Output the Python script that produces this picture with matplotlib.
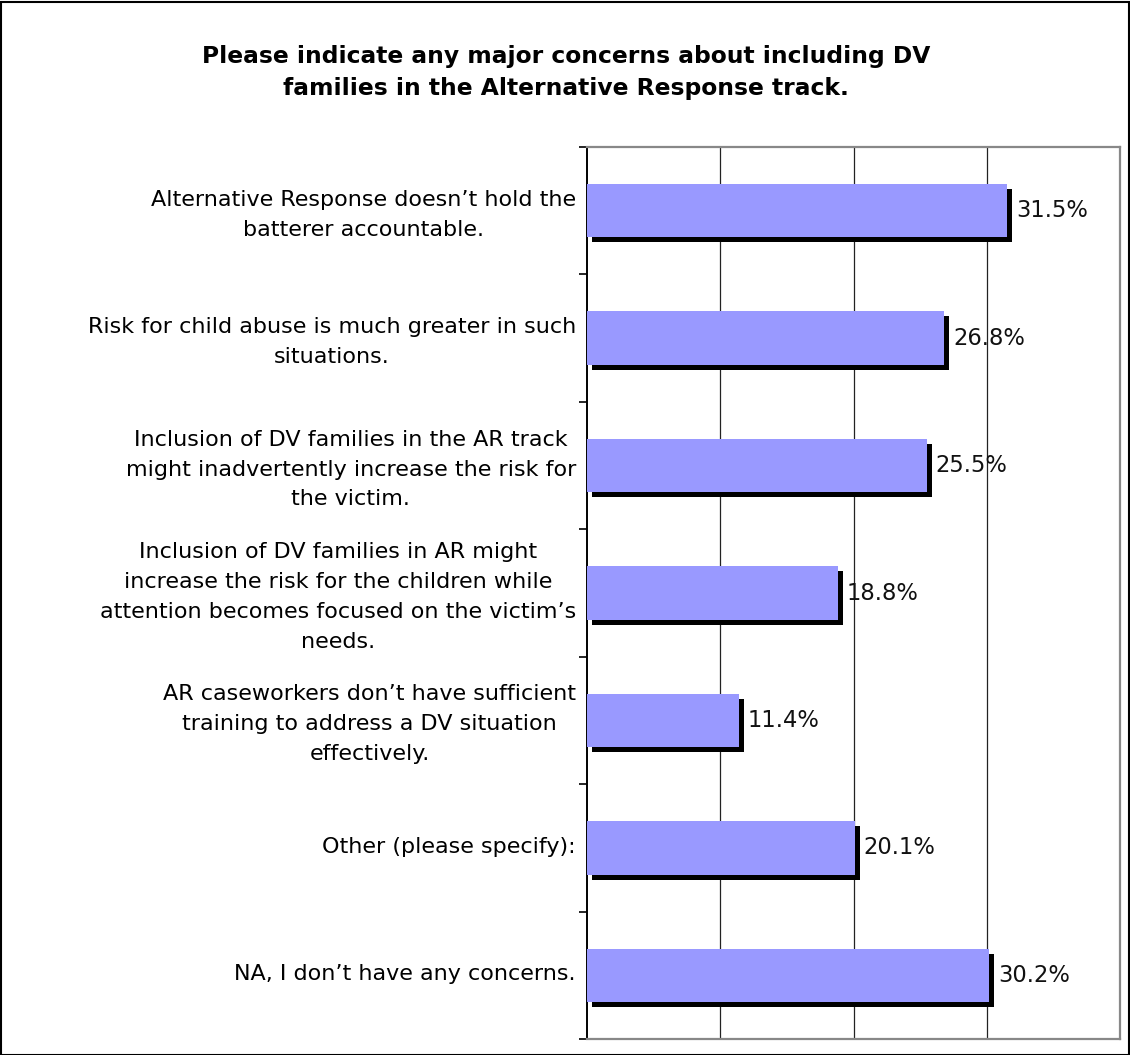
import matplotlib
matplotlib.use("Agg")
import matplotlib.pyplot as plt
from matplotlib import transforms
from matplotlib.patches import Rectangle

TITLE = ("Please indicate any major concerns about including DV\n"
         "families in the Alternative Response track.")
CONCERNS = [
    "Alternative Response doesn\u2019t hold the\nbatterer accountable.",
    "Risk for child abuse is much greater in such\nsituations.",
    "Inclusion of DV families in the AR track\nmight inadvertently increase the risk for\nthe victim.",
    "Inclusion of DV families in AR might\nincrease the risk for the children while\nattention becomes focused on the victim\u2019s\nneeds.",
    "AR caseworkers don\u2019t have sufficient\ntraining to address a DV situation\neffectively.",
    "Other (please specify):",
    "NA, I don\u2019t have any concerns.",
]
PERCENTS = [31.5, 26.8, 25.5, 18.8, 11.4, 20.1, 30.2]
GRID_STEPS = [10, 20, 30]

W, H = 1130, 1055
fig = plt.figure(figsize=(W / 100, H / 100), dpi=100)
ax = fig.add_axes([587 / W, 16 / H, (1120 - 587) / W, (1039 - 147) / H])

pos = list(range(len(PERCENTS)))

# black drop shadow: same bars shifted right/down a few pixels
shift = transforms.ScaledTranslation(5 / 100, -5 / 100, fig.dpi_scale_trans)
ax.barh(pos, PERCENTS, height=0.42, color="black", zorder=2,
        transform=ax.transData + shift)
ax.barh(pos, PERCENTS, height=0.42, color="#9999ff", zorder=3)

for y, v in zip(pos, PERCENTS):
    ax.annotate(f"{v}%", (v, y), xytext=(6.5, 0), textcoords="offset points",
                va="center", ha="left", fontsize=16.3, color="#111111", zorder=4)

ax.set_xlim(0, 40)
ax.set_ylim(len(PERCENTS) - 0.5, -0.5)
ax.set_xticks(GRID_STEPS)
ax.xaxis.grid(True, color="#222222", linewidth=0.9)
ax.set_axisbelow(True)
ax.tick_params(axis="x", length=0, labelbottom=False)

ax.set_yticks(pos)
ax.set_yticklabels(CONCERNS, fontsize=16, linespacing=1.62,
                   multialignment="center")
ax.set_yticks([p - 0.5 for p in pos] + [len(pos) - 0.5], minor=True)
ax.tick_params(axis="y", which="major", length=0, pad=8)
ax.tick_params(axis="y", which="minor", length=6, width=1.2, color="black")

# nudge category labels up a little
lift = transforms.ScaledTranslation(0, 3 / 100, fig.dpi_scale_trans)
for lbl in ax.get_yticklabels():
    lbl.set_transform(lbl.get_transform() + lift)

for side in ("top", "right", "bottom"):
    ax.spines[side].set_color("#888888")
    ax.spines[side].set_linewidth(1.6)
ax.spines["left"].set_color("black")
ax.spines["left"].set_linewidth(1.4)

fig.text(0.501, 1 - 72 / H, TITLE, ha="center", va="center",
         fontsize=16.8, fontweight="bold", linespacing=1.5)

# outer frame around the whole chart
fig.add_artist(Rectangle((0.5 / W, 0.5 / H), 1 - 2 / W, 1 - 2 / H,
                         transform=fig.transFigure, fill=False,
                         edgecolor="black", linewidth=1.5))

fig.savefig("out.png", dpi=100)
